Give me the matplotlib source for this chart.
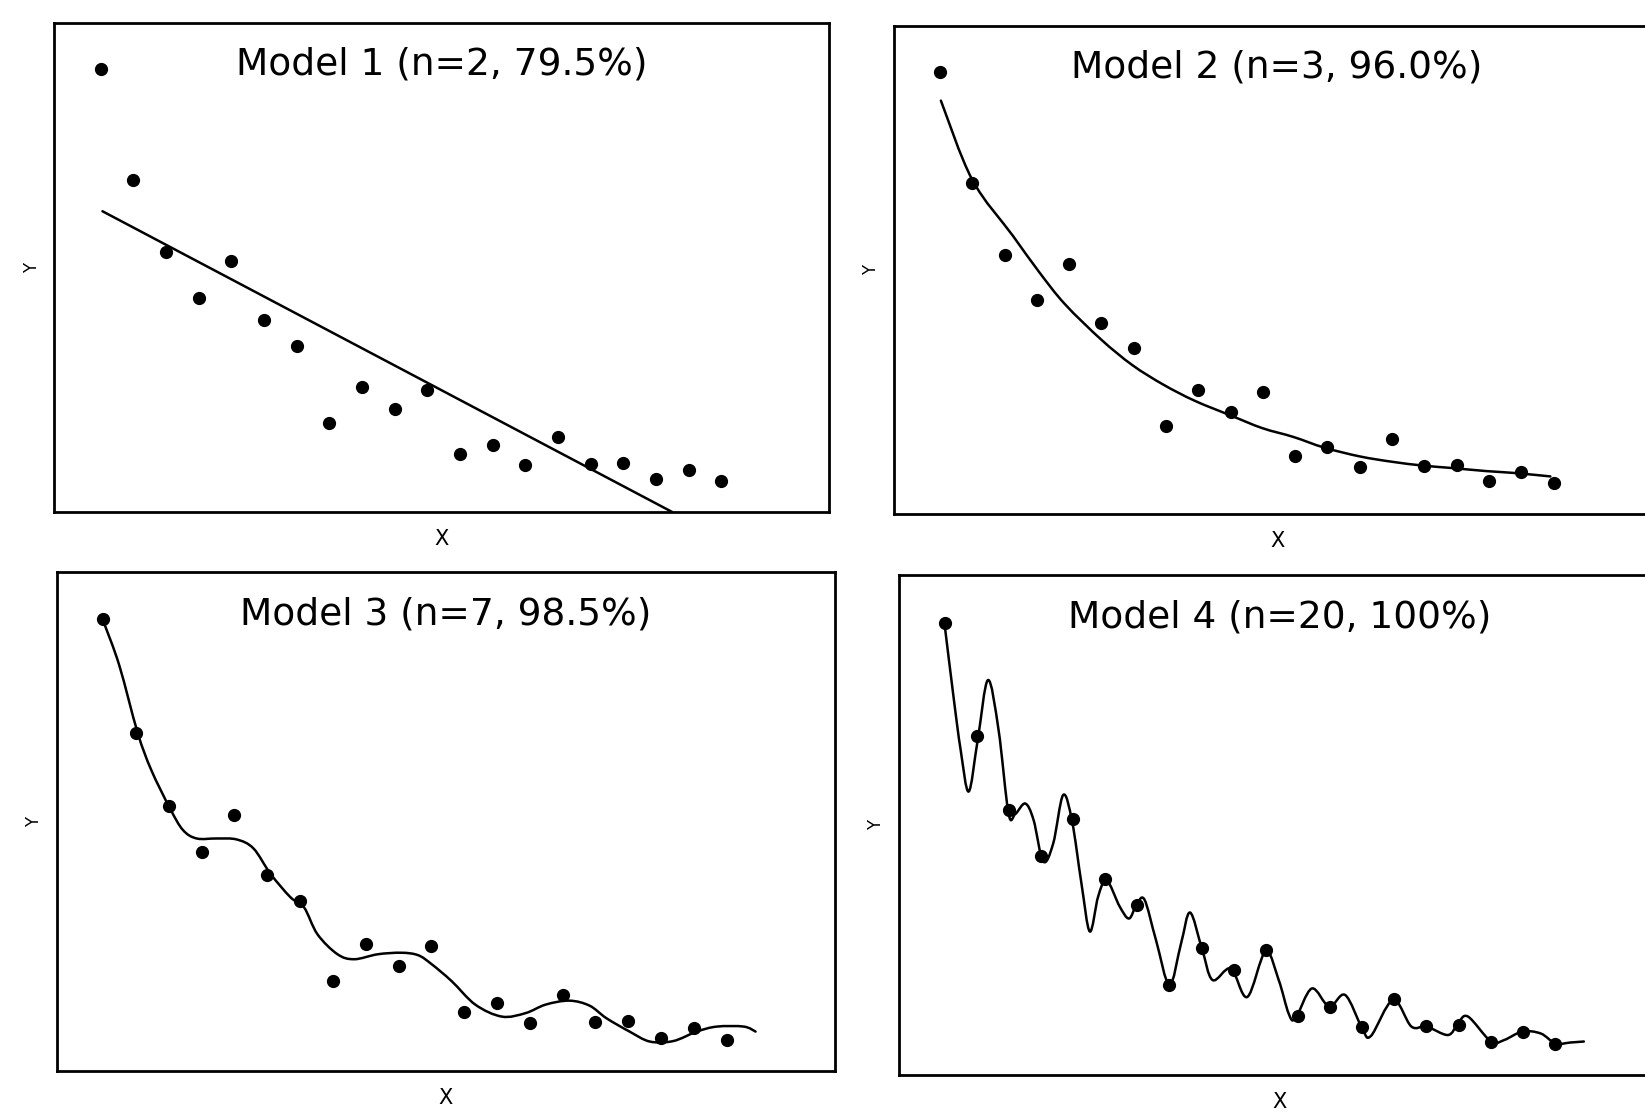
import numpy as np
import matplotlib
matplotlib.use("Agg")
import matplotlib.pyplot as plt
from matplotlib.path import Path
from matplotlib.patches import PathPatch

# =========================
# Data (y in % of axis height)
# =========================

X_DATA = list(range(1, 21))
Y_DATA = [90.5, 67.8, 53.1, 43.8, 51.3, 39.2, 34.0, 18.1, 25.5, 21.0,
          25.0, 11.8, 13.7, 9.6, 15.3, 9.8, 10.1, 6.7, 8.6, 6.3]

TITLES = ["Model 1 (n=2, 79.5%)", "Model 2 (n=3, 96.0%)",
          "Model 3 (n=7, 98.5%)", "Model 4 (n=20, 100%)"]

# Model 1: straight line
FIT1_X = [1.05, 18.5]
FIT1_Y = [61.5, 0.0]

# Model 2: smooth decay
FIT2_X = [1.03, 2.0, 3.26, 4.07, 4.87, 6.0, 6.96, 7.92, 8.89, 10.0,
          10.98, 11.94, 12.9, 14.0, 15.0, 15.98, 16.9, 17.9, 18.8, 19.9]
FIT2_Y = [84.7, 68.5, 57.0, 49.6, 43.0, 35.7, 30.5, 26.5, 23.2, 20.2,
          17.6, 15.8, 13.6, 11.8, 10.7, 9.9, 9.4, 8.8, 8.4, 7.7]

# Model 3: wavy fit
FIT3_X = [1.03, 1.49, 2.05, 2.46, 3.03, 3.43, 3.85, 4.46, 5.07, 5.58,
          6.10, 6.71, 7.12, 7.53, 8.14, 8.65, 9.37, 10.09, 10.6, 11.01,
          11.62, 12.34, 13.15, 13.87, 14.48, 15.2, 15.82, 16.33, 17.04, 17.66,
          18.37, 19.09, 19.70, 20.52, 20.88]
FIT3_Y = [89.7, 81.3, 67.8, 60.4, 52.7, 48.3, 46.6, 46.6, 46.4, 44.6,
          39.5, 34.8, 32.8, 27.4, 23.4, 22.4, 23.4, 23.7, 23.2, 21.4,
          18.0, 13.3, 10.9, 11.6, 13.3, 14.1, 13.1, 10.6, 7.9, 5.9,
          6.0, 7.9, 8.9, 8.9, 7.9]

# Model 4: interpolating curve
FIT4_X = [1.0, 1.29, 1.50, 1.75, 2.03, 2.35, 2.68, 2.99, 3.20, 3.51,
          3.77, 4.07, 4.38, 4.69, 4.97, 5.26, 5.52, 5.78, 6.04, 6.45,
          6.74, 6.97, 7.22, 7.58, 8.0, 8.36, 8.64, 9.01, 9.34, 9.91,
          10.42, 10.99, 11.40, 11.71, 11.92, 12.43, 12.97, 13.47, 14.0, 14.27,
          14.96, 15.53, 16.0, 16.67, 16.98, 17.29, 18.01, 18.42, 18.99, 19.56,
          20.02, 20.48, 20.9]
FIT4_Y = [90.1, 75.0, 65.0, 56.7, 67.0, 79.0, 69.0, 52.3, 52.2, 54.3,
          51.0, 42.7, 46.3, 56.0, 50.7, 38.3, 28.7, 35.7, 39.0, 33.7,
          31.3, 34.0, 35.1, 27.0, 18.0, 26.3, 32.5, 25.3, 19.0, 21.3,
          15.6, 24.7, 19.0, 12.3, 11.3, 17.3, 13.7, 16.0, 9.3, 7.8,
          15.0, 9.7, 9.7, 8.0, 10.3, 11.7, 6.7, 7.0, 8.7, 8.3,
          6.3, 6.5, 6.7]

FITS = [(FIT1_X, FIT1_Y), (FIT2_X, FIT2_Y), (FIT3_X, FIT3_Y), (FIT4_X, FIT4_Y)]

# axes boxes in figure fractions (left, bottom, width, height)
BOXES = [
    [0.0331, 0.5404, 0.4708, 0.4390],
    [0.5435, 0.5386, 0.4657, 0.4381],
    [0.0344, 0.0386, 0.4732, 0.4479],
    [0.5465, 0.0350, 0.4632, 0.4488],
]


def smooth_path(xs, ys):
    """Bezier path (Catmull-Rom style) passing through the read curve points."""
    pts = np.column_stack([xs, ys]).astype(float)
    verts = [pts[0]]
    codes = [Path.MOVETO]
    n = len(pts)
    for i in range(n - 1):
        p0 = pts[i - 1] if i > 0 else pts[i]
        p1 = pts[i]
        p2 = pts[i + 1]
        p3 = pts[i + 2] if i + 2 < n else pts[i + 1]
        verts += [p1 + (p2 - p0) / 6.0, p2 - (p3 - p1) / 6.0, p2]
        codes += [Path.CURVE4] * 3
    return Path(verts, codes)


fig = plt.figure(figsize=(16.45, 11.14), dpi=100)

for box, title, (fx, fy) in zip(BOXES, TITLES, FITS):
    ax = fig.add_axes(box)
    ax.add_patch(PathPatch(smooth_path(fx, fy), facecolor="none", edgecolor="black",
                           linewidth=1.8, joinstyle="round", capstyle="round"))
    ax.plot(X_DATA, Y_DATA, "o", color="black", markersize=8.5)

    ax.set_xlim(-0.42, 23.3)
    ax.set_ylim(0, 100)
    ax.set_xticks([])
    ax.set_yticks([])
    for sp in ax.spines.values():
        sp.set_linewidth(2.0)

    ax.text(0.5, 0.915, title, transform=ax.transAxes, ha="center", va="center",
            fontsize=27, family="DejaVu Sans")
    ax.set_xlabel("X", fontsize=15, labelpad=12)
    ax.set_ylabel("Y", fontsize=12, labelpad=10)

fig.savefig("out.png", dpi=100)
